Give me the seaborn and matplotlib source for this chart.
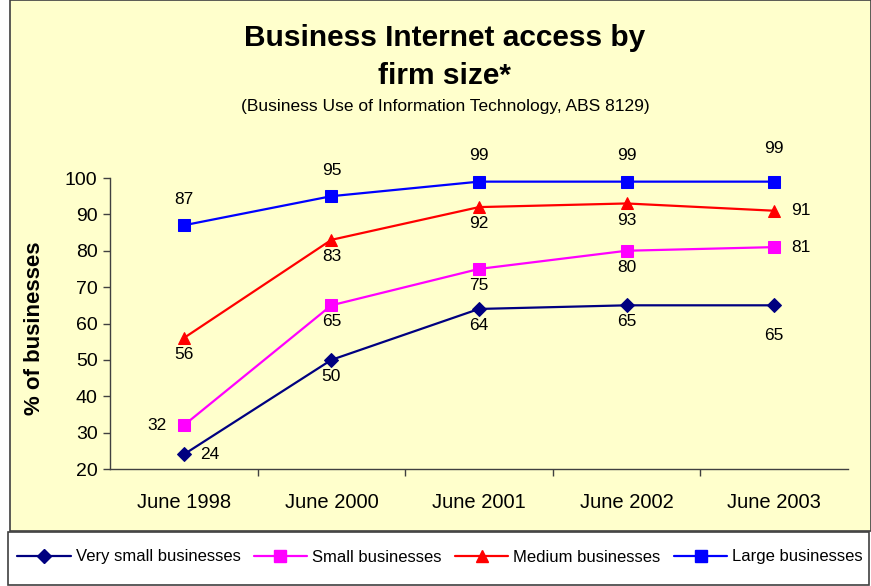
import matplotlib
matplotlib.use("Agg")
import matplotlib.pyplot as plt
import matplotlib.patches as mpatches
import seaborn as sns
import pandas as pd

# Survey periods and access rates (% of businesses) by firm size
periods = ["June 1998", "June 2000", "June 2001", "June 2002", "June 2003"]
very_small = [24, 50, 64, 65, 65]
small = [32, 65, 75, 80, 81]
medium = [56, 83, 92, 93, 91]
large = [87, 95, 99, 99, 99]

series_names = ["Very small businesses", "Small businesses",
                "Medium businesses", "Large businesses"]
series_values = [very_small, small, medium, large]
colors = ["#000080", "#FF00FF", "#FF0000", "#0000FF"]
markers = ["D", "s", "^", "s"]
marker_sizes = [7, 8, 9, 8]

# Label offsets (points) for each value label, per series
offsets = [
    [(19, 0), (0, -12), (0, -12), (0, -12), (0, -22)],
    [(-19, 0), (0, -12), (0, -12), (0, -12), (19, 0)],
    [(0, -12), (0, -12), (0, -12), (0, -12), (19, 0)],
    [(0, 18.5), (0, 18.5), (0, 18.5), (0, 18.5), (0, 24)],
]

rows = []
for name, vals in zip(series_names, series_values):
    for i, v in enumerate(vals):
        rows.append({"series": name, "pos": i, "value": v})
df = pd.DataFrame(rows)

sns.set_theme(style="white")
plt.rcParams["font.family"] = ["Liberation Sans", "DejaVu Sans"]
plt.rcParams["text.color"] = "black"
plt.rcParams["xtick.color"] = "black"
plt.rcParams["ytick.color"] = "black"

bg = "#FFFFCC"
fig = plt.figure(figsize=(8.71, 5.86), dpi=100)
fig.patch.set_facecolor("white")

W, H = 871, 586
# Chart area panel and legend panel
fig.patches.append(mpatches.Rectangle((10 / W, 1 - 531 / H), (W - 10) / W, 531 / H,
                                      transform=fig.transFigure, facecolor=bg,
                                      edgecolor="#404040", linewidth=1.2, zorder=-2))
fig.patches.append(mpatches.Rectangle((8 / W, 1 - 585 / H), (W - 10) / W, 53 / H,
                                      transform=fig.transFigure, facecolor="white",
                                      edgecolor="#404040", linewidth=1.2, zorder=-2))

ax = fig.add_axes([110 / W, 1 - 469 / H, (848 - 110) / W, (469 - 178) / H])
ax.set_facecolor(bg)
ax.patch.set_alpha(0)

for name, vals, c, m, ms in zip(series_names, series_values, colors, markers, marker_sizes):
    sub = df[df["series"] == name]
    sns.lineplot(data=sub, x="pos", y="value", ax=ax, color=c, marker=m,
                 markersize=ms, markeredgecolor=c, linewidth=1.6, label=name,
                 legend=False, clip_on=False)

for vals, offs in zip(series_values, offsets):
    for i, (v, (dx, dy)) in enumerate(zip(vals, offs)):
        ax.annotate(str(v), (i, v), xytext=(dx, dy), textcoords="offset points",
                    ha="center", va="center", fontsize=12.5, color="black")

ax.set_xlim(-0.5, 4.5)
ax.set_ylim(20, 100)
ax.set_yticks(range(20, 101, 10))
ax.set_xticks(range(len(periods)))
ax.set_xticklabels(periods, fontsize=14.5)
ax.set_xticks([0.5, 1.5, 2.5, 3.5], minor=True)
ax.tick_params(axis="x", which="major", length=0, pad=17)
ax.tick_params(axis="x", which="minor", length=5, width=1, color="#404040", direction="out",
               bottom=True)
ax.tick_params(axis="y", labelsize=14, length=5, width=1, color="#404040",
               direction="out", left=True, pad=4)
for side in ["top", "right"]:
    ax.spines[side].set_visible(False)
for side in ["left", "bottom"]:
    ax.spines[side].set_color("#404040")
    ax.spines[side].set_linewidth(1)
ax.set_xlabel("")
ax.set_ylabel("")

fig.text(35 / W, 1 - 328 / H, "% of businesses", rotation=90, ha="center", va="center",
         fontsize=16, fontweight="bold")
fig.text(445 / W, 1 - 57 / H, "Business Internet access by\nfirm size*", ha="center",
         va="center", fontsize=21.5, fontweight="bold", linespacing=1.42)
fig.text(445 / W, 1 - 107 / H, "(Business Use of Information Technology, ABS 8129)",
         ha="center", va="center", fontsize=12.5)

handles = [plt.Line2D([], [], color=c, marker=m, markersize=ms, markeredgecolor=c, linewidth=1.6)
           for c, m, ms in zip(colors, markers, marker_sizes)]
fig.legend(handles, series_names, loc="center", bbox_to_anchor=(440 / W, 1 - 557 / H),
           ncol=4, frameon=False, fontsize=12, handlelength=3.2, columnspacing=0.8,
           handletextpad=0.3)

fig.savefig("out.png", dpi=100, facecolor="white")
